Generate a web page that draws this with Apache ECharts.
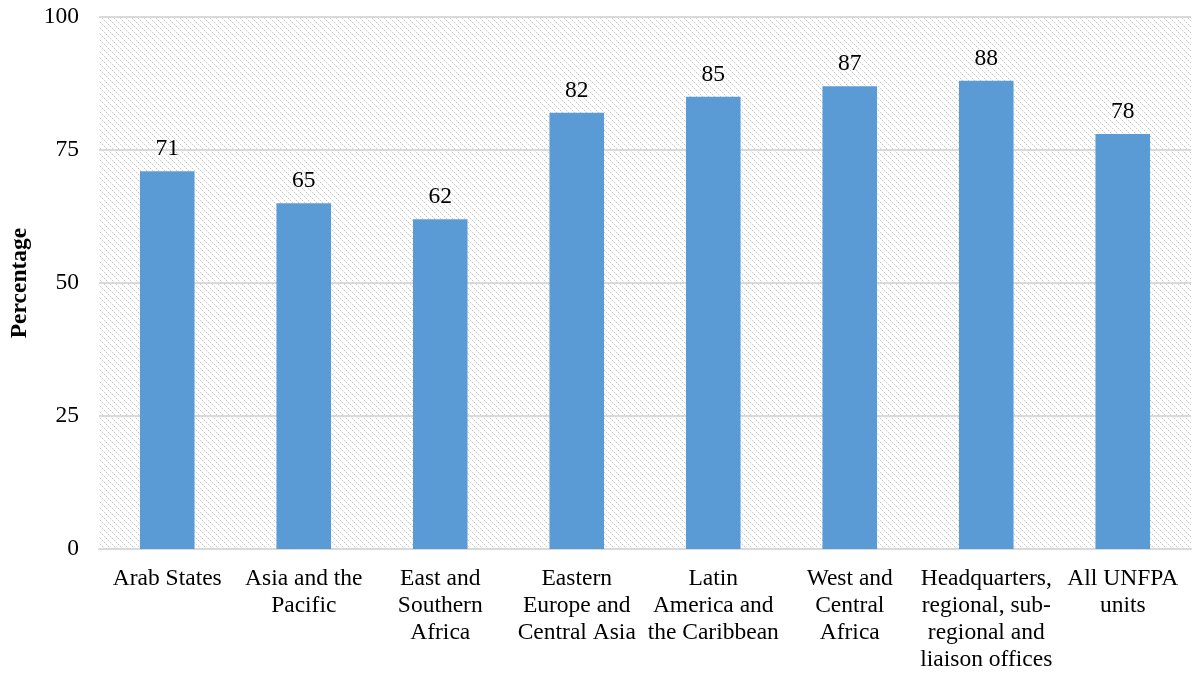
<!DOCTYPE html>
<html>
<head>
<meta charset="utf-8">
<script src="https://cdn.jsdelivr.net/npm/echarts@6/dist/echarts.min.js"></script>
<style>
  html, body { margin: 0; padding: 0; background: #ffffff; }
  #chart { width: 1193px; height: 673px; }
</style>
</head>
<body>
<div id="chart"></div>
<script>
// Share of units by region (percentage)
var categories = [
  'Arab States',
  'Asia and the\nPacific',
  'East and\nSouthern\nAfrica',
  'Eastern\nEurope and\nCentral Asia',
  'Latin\nAmerica and\nthe Caribbean',
  'West and\nCentral\nAfrica',
  'Headquarters,\nregional, sub-\nregional and\nliaison offices',
  'All UNFPA\nunits'
];
var values = [71, 65, 62, 82, 85, 87, 88, 78];
var yTicks = [0, 25, 50, 75, 100];

// Dotted diagonal hatch tile for the plot background
function hatchTile() {
  var c = document.createElement('canvas');
  var s = 6;
  c.width = s; c.height = s;
  var ctx = c.getContext('2d');
  ctx.fillStyle = '#ffffff';
  ctx.fillRect(0, 0, s, s);
  ctx.fillStyle = '#c8c8c8';
  for (var i = 0; i < s; i += 2) {
    ctx.fillRect(i, i, 1, 1);
  }
  ctx.fillStyle = '#ececec';
  for (var j = 1; j < s; j += 2) {
    ctx.fillRect(j, j, 1, 1);
  }
  return c;
}

var font = '"Liberation Serif", "Times New Roman", serif';
var chart = echarts.init(document.getElementById('chart'), null, { renderer: 'canvas' });
chart.setOption({
  animation: false,
  textStyle: { fontFamily: font },
  grid: {
    left: 97, right: 2, top: 17, bottom: 124,
    show: true,
    borderWidth: 0,
    backgroundColor: { image: hatchTile(), repeat: 'repeat' }
  },
  xAxis: {
    type: 'category',
    data: categories,
    axisLine: { show: true, lineStyle: { color: '#d9d9d9', width: 2 } },
    axisTick: { show: false },
    axisLabel: {
      interval: 0,
      margin: 16,
      color: '#000000',
      fontSize: 23.5,
      lineHeight: 27,
      fontFamily: font
    }
  },
  yAxis: {
    type: 'value',
    min: yTicks[0],
    max: yTicks[yTicks.length - 1],
    interval: 25,
    name: 'Percentage',
    nameLocation: 'middle',
    nameGap: 67,
    nameTextStyle: { color: '#000000', fontSize: 23.5, fontWeight: 'bold', fontFamily: font },
    axisLine: { show: false },
    axisTick: { show: false },
    axisLabel: { color: '#000000', fontSize: 23.5, margin: 20, fontFamily: font },
    splitLine: { lineStyle: { color: '#d9d9d9', width: 2 } }
  },
  series: [{
    type: 'bar',
    data: values,
    barWidth: '40%',
    itemStyle: { color: '#5b9bd5' },
    label: {
      show: true,
      position: 'top',
      distance: 10,
      color: '#000000',
      fontSize: 23.5,
      fontFamily: font
    }
  }]
});
</script>
</body>
</html>
